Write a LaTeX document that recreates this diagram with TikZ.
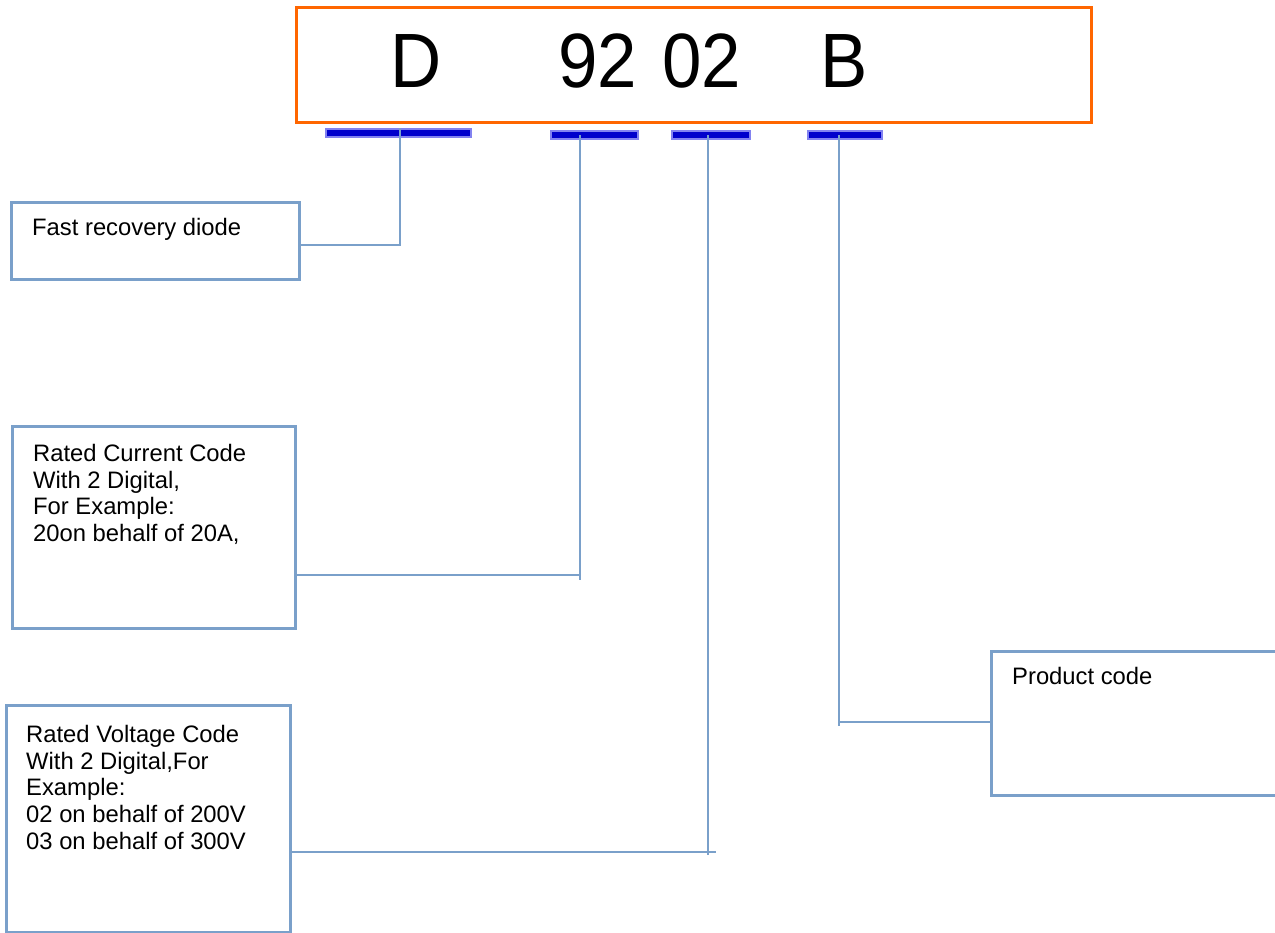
\documentclass[tikz,border=0pt]{standalone}
\usepackage{fontspec}
\setmainfont{Liberation Sans}
\usepackage{xcolor}
\usepackage{tikz}
\usetikzlibrary{calc}

\definecolor{codeorange}{RGB}{255,102,0}
\definecolor{linkblue}{RGB}{122,160,202}
\definecolor{barblue}{RGB}{0,0,204}
\definecolor{barhalo}{RGB}{130,130,240}

\begin{document}
\begin{tikzpicture}[
    x=1pt, y=-1pt,
    codebox/.style={rectangle, draw=codeorange, line width=3pt, inner sep=0pt, anchor=north west},
    big/.style={anchor=base, inner sep=0pt, font=\fontsize{77}{80}\selectfont},
    bar/.style={rectangle, fill=barblue, draw=barhalo, line width=2pt, inner sep=0pt, minimum height=8pt},
    dbox/.style={rectangle, draw=linkblue, line width=3pt, inner sep=0pt, anchor=north west},
    dtext/.style={anchor=north west, inner sep=0pt, align=left, font=\fontsize{23.8}{26.7}\selectfont},
    link/.style={draw=linkblue, line width=2.5pt}
]
    \path[use as bounding box, clip] (0,0) rectangle (1275,933);

    % code
    \node [codebox, minimum width=795pt, minimum height=115pt] (code) at (295,6) {};
    \node [big] (cD) at (416,88) {\scalebox{0.92}[1]{D}};
    \node [big] (c92) at (598,88) {\scalebox{0.92}[1]{92}};
    \node [big] (c02) at (702,88) {\scalebox{0.92}[1]{02}};
    \node [big] (cB) at (844,88) {\scalebox{0.92}[1]{B}};

    \node [bar, minimum width=145pt] (bar1) at (398.5,133) {};
    \node [bar, minimum width=87pt] (bar2) at (594.5,135) {};
    \node [bar, minimum width=78pt] (bar3) at (710.5,135) {};
    \node [bar, minimum width=74pt] (bar4) at (845,135) {};

    % descriptions
    \node [dbox, minimum width=288pt, minimum height=77pt] (b1) at (10,201) {};
    \node [dbox, minimum width=283pt, minimum height=202pt] (b2) at (11,425) {};
    \node [dbox, minimum width=284pt, minimum height=227pt] (b3) at (5,704) {};
    \node [dbox, minimum width=320pt, minimum height=144pt] (b4) at (990,650) {};

    \node [dtext] (t1) at (32,218) {Fast recovery diode};
    \node [dtext] (t2) at (33,444) {Rated Current Code\\With 2 Digital,\\For Example:\\20on behalf of 20A,};
    \node [dtext] (t3) at (26,725) {Rated Voltage Code\\With 2 Digital,For\\Example:\\02 on behalf of 200V\\03 on behalf of 300V};
    \node [dtext] (t4) at (1012,667) {Product code};

    % connectors
    \coordinate (k1) at (400,245);
    \coordinate (k2) at (580,575);
    \coordinate (k3) at (708,852);
    \coordinate (k4) at (839,722);

    \draw [link] (bar1.north -| k1) -- (k1) -- (b1.east |- k1);
    \draw [link] (bar2.center -| k2) -- ($(k2)+(0,5)$);
    \draw [link] (b2.east |- k2) -- (k2);
    \draw [link] (bar3.center -| k3) -- ($(k3)+(0,3)$);
    \draw [link] (b3.east |- k3) -- ($(k3)+(8,0)$);
    \draw [link] (bar4.center -| k4) -- ($(k4)+(0,4)$);
    \draw [link] (k4) -- (b4.west |- k4);
\end{tikzpicture}
\end{document}
